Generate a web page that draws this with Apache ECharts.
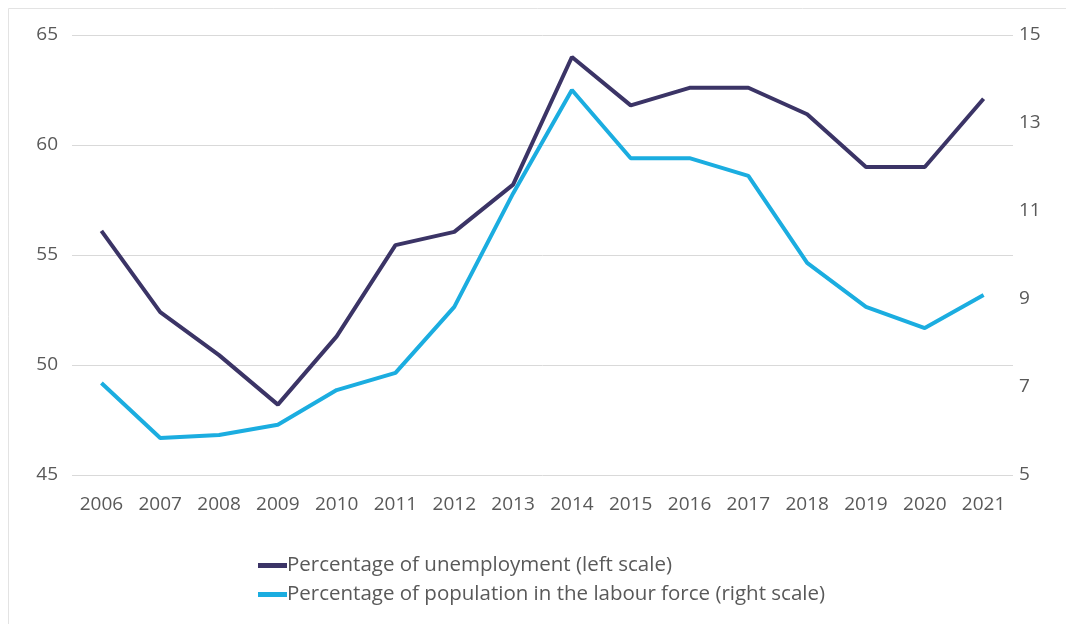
<!DOCTYPE html>
<html>
<head>
<meta charset="utf-8">
<script src="https://cdn.jsdelivr.net/npm/echarts@6/dist/echarts.min.js"></script>
<style>
  html, body { margin: 0; padding: 0; background: #fff; }
  #chart { width: 1066px; height: 624px; }
</style>
</head>
<body>
<div id="chart"></div>
<script>
const years = ['2006','2007','2008','2009','2010','2011','2012','2013','2014','2015','2016','2017','2018','2019','2020','2021'];
const unemployment = [56.1, 52.4, 50.45, 48.2, 51.3, 55.45, 56.05, 58.2, 64.0, 61.8, 62.6, 62.6, 61.4, 59.0, 59.0, 62.1];
const labourForce = [7.09, 5.84, 5.91, 6.14, 6.93, 7.32, 8.82, 11.4, 13.75, 12.2, 12.2, 11.8, 9.82, 8.82, 8.34, 9.09];
const unemploymentName = 'Percentage of unemployment (left scale)';
const labourForceName = 'Percentage of population in the labour force (right scale)';

const textColor = '#595959';
const fontFamily = '"Open Sans", "Noto Sans", sans-serif';

const chart = echarts.init(document.getElementById('chart'));
chart.setOption({
  animation: false,
  textStyle: { fontFamily: fontFamily },
  graphic: [{
    type: 'rect',
    shape: { x: 8.5, y: 8.5, width: 1070, height: 640 },
    style: { fill: 'none', stroke: '#e3e3e3', lineWidth: 1 },
    silent: true
  }],
  grid: { left: 72, right: 53, top: 35, bottom: 149 },
  legend: {
    orient: 'vertical',
    left: 253,
    top: 550,
    itemGap: 8,
    itemWidth: 29,
    itemHeight: 5,
    icon: 'rect',
    textStyle: { color: textColor, fontSize: 20.5, fontFamily: fontFamily, padding: [0, 0, 0, -5] },
    data: [unemploymentName, labourForceName]
  },
  xAxis: {
    type: 'category',
    data: years,
    boundaryGap: true,
    axisLine: { show: false },
    axisTick: { show: false },
    axisLabel: { color: textColor, fontSize: 19, margin: 20, fontFamily: fontFamily }
  },
  yAxis: [{
    type: 'value',
    min: 45, max: 65, interval: 5,
    axisLine: { show: false },
    axisTick: { show: false },
    axisLabel: { color: textColor, fontSize: 19, margin: 14, fontFamily: fontFamily },
    splitLine: { lineStyle: { color: '#d9d9d9', width: 1 } }
  }, {
    type: 'value',
    min: 5, max: 15, interval: 2,
    position: 'right',
    axisLine: { show: false },
    axisTick: { show: false },
    axisLabel: { color: textColor, fontSize: 19, margin: 6, fontFamily: fontFamily },
    splitLine: { show: false }
  }],
  series: [{
    name: unemploymentName,
    type: 'line',
    yAxisIndex: 0,
    data: unemployment,
    symbol: 'none',
    lineStyle: { color: '#3b3466', width: 4 },
    itemStyle: { color: '#3b3466' },
    z: 3
  }, {
    name: labourForceName,
    type: 'line',
    yAxisIndex: 1,
    data: labourForce,
    symbol: 'none',
    lineStyle: { color: '#1bade0', width: 4 },
    itemStyle: { color: '#1bade0' },
    z: 2
  }]
});
</script>
</body>
</html>
